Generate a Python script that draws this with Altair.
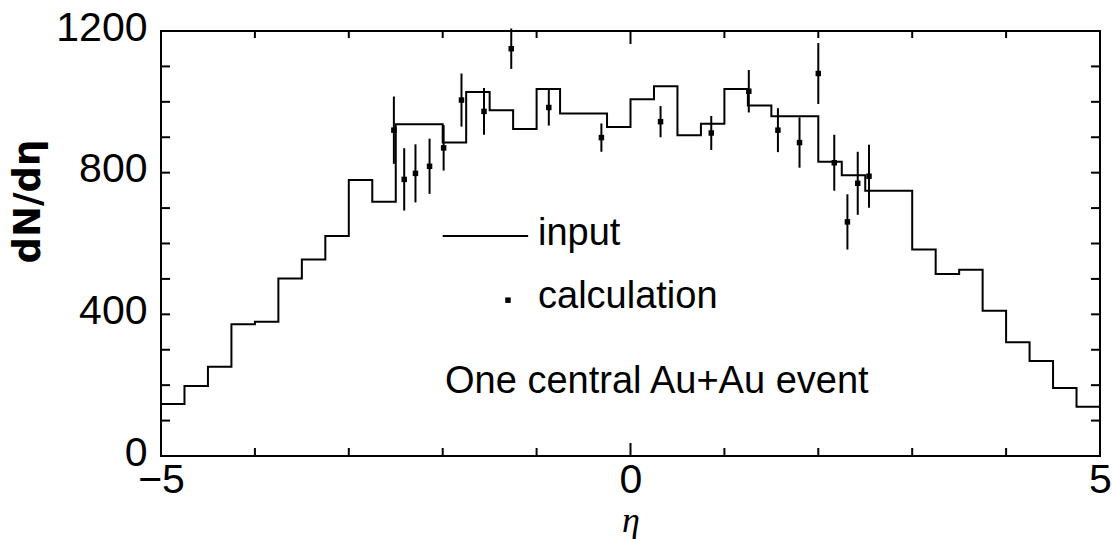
import altair as alt
import pandas as pd

# ---- data ----
bin_edges = [-5.0, -4.75, -4.5, -4.25, -4.0, -3.75, -3.5, -3.25, -3.0, -2.75,
             -2.5, -2.25, -2.0, -1.75, -1.5, -1.25, -1.0, -0.75, -0.5, -0.25,
             0.0, 0.25, 0.5, 0.75, 1.0, 1.25, 1.5, 1.75, 2.0, 2.25,
             2.5, 2.75, 3.0, 3.25, 3.5, 3.75, 4.0, 4.25, 4.5, 4.75, 5.0]
input_vals = [147, 198, 252, 372, 379, 501, 555, 621, 779, 718,
              937, 937, 885, 1028, 976, 923, 1036, 967, 967, 929,
              1007, 1044, 906, 938, 1036, 990, 959, 959, 831, 793,
              749, 749, 583, 514, 526, 410, 321, 268, 192, 139]

calc_eta = [-2.52, -2.41, -2.29, -2.14, -1.99, -1.80, -1.56, -1.27, -0.87, -0.31,
            0.32, 0.86, 1.26, 1.57, 1.80, 2.00, 2.17, 2.31, 2.42, 2.54]
calc_val = [920, 781, 798, 818, 870, 1005, 973, 1150, 984, 899,
            944, 912, 1030, 920, 885, 1080, 828, 661, 770, 790]
calc_err = [95, 88, 82, 78, 64, 75, 66, 57, 51, 40,
            44, 48, 60, 62, 71, 86, 79, 78, 89, 89]

x_minor_ticks = [-4, -3, -2, -1, 1, 2, 3, 4]
x_major_ticks = [0]
y_ticks = [100, 200, 300, 400, 500, 600, 700, 800, 900, 1000, 1100]
x_labels = [-5, 0, 5]
y_labels = [0, 400, 800, 1200]

W, H = 939, 425

hist_df = pd.DataFrame({"eta": bin_edges, "v": input_vals + [input_vals[-1]]})
calc_df = pd.DataFrame({"eta": calc_eta, "v": calc_val,
                        "lo": [v - e for v, e in zip(calc_val, calc_err)],
                        "hi": [v + e for v, e in zip(calc_val, calc_err)]})

xs = alt.Scale(domain=[-5, 5], nice=False, zero=False)
ys = alt.Scale(domain=[0, 1200], nice=False)

base_font = "Liberation Sans"

hist = alt.Chart(hist_df).mark_line(
    interpolate="step-after", color="black", strokeWidth=2
).encode(
    x=alt.X("eta:Q", scale=xs, axis=alt.Axis(
        values=x_labels, ticks=False, domain=False, grid=False,
        labelExpr="datum.value < 0 ? '\u2212' + abs(datum.value) : '' + datum.value",
        labelFont=base_font, labelFontSize=41, labelColor="black",
        labelPadding=4, labelFlush=False,
        title="\u03b7", titleFont="Liberation Serif", titleFontStyle="italic",
        titleFontWeight="normal", titleFontSize=36, titleColor="black",
        titleY=75, titleBaseline="alphabetic")),
    y=alt.Y("v:Q", scale=ys, axis=alt.Axis(
        values=y_labels, ticks=False, domain=False, grid=False, format="d",
        labelFont=base_font, labelFontSize=41, labelColor="black",
        labelPadding=14, labelOffset=-3,
        title="dN/d\u03b7", titleFont="DejaVu Sans", titleFontWeight="bold",
        titleFontSize=37, titleColor="black", titleX=-133, titleY=170,
        titleAlign="center", titleBaseline="middle", titleAngle=270)),
)

err = alt.Chart(calc_df).mark_rule(color="black", strokeWidth=2).encode(
    x=alt.X("eta:Q", scale=xs), y=alt.Y("lo:Q", scale=ys), y2="hi:Q")
pts = alt.Chart(calc_df).mark_square(color="black", size=30, opacity=1).encode(
    x=alt.X("eta:Q", scale=xs), y=alt.Y("v:Q", scale=ys))

# inward ticks
xt_min = pd.DataFrame({"t": x_minor_ticks})
xt_maj = pd.DataFrame({"t": x_major_ticks})
yt = pd.DataFrame({"t": y_ticks})
tick_layers = [
    alt.Chart(xt_min).mark_rule(color="black", strokeWidth=2).encode(
        x=alt.X("t:Q", scale=xs), y=alt.value(H), y2=alt.value(H - 8)),
    alt.Chart(xt_min).mark_rule(color="black", strokeWidth=2).encode(
        x=alt.X("t:Q", scale=xs), y=alt.value(0), y2=alt.value(7)),
    alt.Chart(xt_maj).mark_rule(color="black", strokeWidth=2).encode(
        x=alt.X("t:Q", scale=xs), y=alt.value(H), y2=alt.value(H - 13)),
    alt.Chart(xt_maj).mark_rule(color="black", strokeWidth=2).encode(
        x=alt.X("t:Q", scale=xs), y=alt.value(0), y2=alt.value(13)),
    alt.Chart(yt).mark_rule(color="black", strokeWidth=2).encode(
        y=alt.Y("t:Q", scale=ys), x=alt.value(0), x2=alt.value(9)),
    alt.Chart(yt).mark_rule(color="black", strokeWidth=2).encode(
        y=alt.Y("t:Q", scale=ys), x=alt.value(W), x2=alt.value(W - 9)),
]

# legend / annotation
leg_line = pd.DataFrame({"x1": [-2.0], "x2": [-1.09], "y": [621]})
leg_dot = pd.DataFrame({"x": [-1.305], "y": [440]})
texts = pd.DataFrame({"x": [-0.985, -0.985, -1.975],
                      "y": [595, 418, 178],
                      "txt": ["input", "calculation", "One central Au+Au event"]})

ann = [
    alt.Chart(leg_line).mark_rule(color="black", strokeWidth=2).encode(
        x=alt.X("x1:Q", scale=xs), x2="x2:Q", y=alt.Y("y:Q", scale=ys)),
    alt.Chart(leg_dot).mark_square(color="black", size=30, opacity=1).encode(
        x=alt.X("x:Q", scale=xs), y=alt.Y("y:Q", scale=ys)),
    alt.Chart(texts).mark_text(align="left", baseline="alphabetic",
                               font=base_font, fontSize=38, color="black").encode(
        x=alt.X("x:Q", scale=xs), y=alt.Y("y:Q", scale=ys), text="txt:N"),
]

chart = alt.layer(hist, err, pts, *tick_layers, *ann).properties(
    width=W, height=H,
    autosize=alt.AutoSizeParams(type="none"),
    padding={"left": 161, "top": 31, "right": 12, "bottom": 83},
    background="white",
).configure_view(stroke="black", strokeWidth=2)

chart.save("out.html", embed_options={"renderer": "svg", "actions": False})
